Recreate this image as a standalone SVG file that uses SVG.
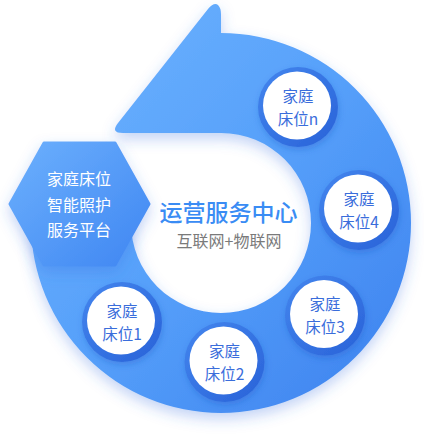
<svg xmlns="http://www.w3.org/2000/svg" width="424" height="435" viewBox="0 0 424 435">
<defs>
<linearGradient id="ringGrad" x1="0" y1="0" x2="1" y2="1">
<stop offset="0" stop-color="#70b5ff"/>
<stop offset="0.5" stop-color="#56a0fa"/>
<stop offset="1" stop-color="#3b80ee"/>
</linearGradient>
<linearGradient id="hexGrad" x1="0" y1="0" x2="1" y2="1">
<stop offset="0" stop-color="#6cb0fd"/>
<stop offset="1" stop-color="#3f86f2"/>
</linearGradient>
<linearGradient id="nodeGrad" x1="0" y1="0" x2="1" y2="1">
<stop offset="0" stop-color="#4486ee"/>
<stop offset="1" stop-color="#2862d8"/>
</linearGradient>
<filter id="shadow" x="-20%" y="-20%" width="140%" height="150%">
<feDropShadow dx="0" dy="6" stdDeviation="7" flood-color="#3a6fe0" flood-opacity="0.3"/>
</filter>
<filter id="nodeShadow" x="-30%" y="-30%" width="160%" height="160%">
<feDropShadow dx="1" dy="3" stdDeviation="3" flood-color="#1f4fbf" flood-opacity="0.3"/>
</filter>
</defs>
<style>
.cjk{font-family:"Noto Sans CJK SC","Noto Sans",sans-serif;}
.node-text{font-size:15.5px;fill:#3a6ddb;text-anchor:middle;}
.hex-text{font-size:16px;fill:#ffffff;text-anchor:middle;}
.inner{fill:#ffffff;}
.outer{fill:url(#nodeGrad);}
</style>
<g id="connectors">
<path id="cycle-arrow" filter="url(#shadow)" fill="url(#ringGrad)" d="M 221 133 L 123 133 Q 110 133 118 123 L 208 9 Q 214 2 218 5 Q 221 8 221 14 L 221 33 A 190 190 0 1 1 31 223 L 131 223 A 90 90 0 1 0 221 133 Z"/>
</g>
<g id="hub">
<polygon filter="url(#shadow)" points="44,143 115,143 149,204 115,265 44,265 10,204" fill="url(#hexGrad)" stroke="url(#hexGrad)" stroke-width="3" stroke-linejoin="round"/>
<text class="cjk hex-text" x="79" y="185">家庭床位</text>
<text class="cjk hex-text" x="79" y="210.5">智能照护</text>
<text class="cjk hex-text" x="79" y="236">服务平台</text>
</g>
<g id="center">
<text class="cjk" x="228.5" y="221" font-size="23" fill="#3a8cf4" text-anchor="middle" font-weight="500">运营服务中心</text>
<text class="cjk" x="229" y="247" font-size="16" fill="#7a7a7a" text-anchor="middle">互联网+物联网</text>
</g>
<g id="node-n">
<circle class="outer" filter="url(#nodeShadow)" cx="298" cy="107" r="40"/>
<circle class="inner" cx="297" cy="105.5" r="34"/>
<text class="cjk node-text" x="298" y="102">家庭</text>
<text class="cjk node-text" x="298" y="124.5">床位n</text>
</g>
<g id="node-4">
<circle class="outer" filter="url(#nodeShadow)" cx="359" cy="210" r="40"/>
<circle class="inner" cx="358" cy="208.5" r="34"/>
<text class="cjk node-text" x="359" y="204.5">家庭</text>
<text class="cjk node-text" x="359" y="227.5">床位4</text>
</g>
<g id="node-3">
<circle class="outer" filter="url(#nodeShadow)" cx="325" cy="315.5" r="40"/>
<circle class="inner" cx="324" cy="314" r="34"/>
<text class="cjk node-text" x="325" y="310">家庭</text>
<text class="cjk node-text" x="325" y="332.5">床位3</text>
</g>
<g id="node-2">
<circle class="outer" filter="url(#nodeShadow)" cx="224.5" cy="362" r="40"/>
<circle class="inner" cx="223.5" cy="360.5" r="34"/>
<text class="cjk node-text" x="224.5" y="356.5">家庭</text>
<text class="cjk node-text" x="224.5" y="379.5">床位2</text>
</g>
<g id="node-1">
<circle class="outer" filter="url(#nodeShadow)" cx="122" cy="322" r="40"/>
<circle class="inner" cx="121" cy="320.5" r="34"/>
<text class="cjk node-text" x="122" y="316.5">家庭</text>
<text class="cjk node-text" x="122" y="339.5">床位1</text>
</g>
</svg>
